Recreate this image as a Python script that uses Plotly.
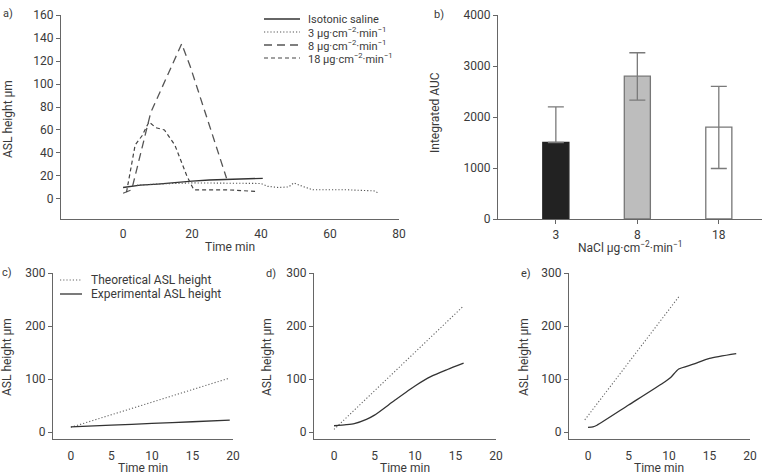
import plotly.graph_objects as go

W, H = 763, 474
FONT = "Roboto"
TXT = "#3a3a3a"
AX = "#666666"

# ---------------- data ----------------
# panel a
iso_x = [0, 5, 10, 15, 20, 25, 30, 35, 40.5]
iso_y = [10, 12, 13, 14.5, 15.5, 16.5, 17, 17.5, 18]
n3_x = [4, 10, 20, 30, 40, 42, 45, 48, 49.5, 52, 55, 65, 73, 74]
n3_y = [12, 13, 14, 14, 13.5, 11, 10, 10.5, 14, 11, 8, 8, 7, 5]
n8_x = [0, 2.5, 8, 17, 19.5, 30]
n8_y = [5, 8, 75, 135, 115, 18]
n18_x = [1, 3.5, 5.5, 7.5, 9.5, 12, 15, 18.5, 20.5, 30, 39]
n18_y = [6, 47, 55, 67, 62, 60, 47, 20, 8, 8, 6.5]
a_names = ["Isotonic saline",
           "3 µg·cm<sup>−2</sup>·min<sup>−1</sup>",
           "8 µg·cm<sup>−2</sup>·min<sup>−1</sup>",
           "18 µg·cm<sup>−2</sup>·min<sup>−1</sup>"]

# panel b
b_cats = ["3", "8", "18"]
b_vals = [1500, 2800, 1800]
b_err_plus = [700, 460, 800]
b_err_minus = [0, 470, 810]

# panels c-e
c_theo_x = [0, 19.6]
c_theo_y = [9, 102]
c_exp_x = [0, 5, 10, 15, 19.6]
c_exp_y = [10, 13, 16.5, 19.5, 22.5]
d_theo_x = [0, 16]
d_theo_y = [5, 238]
d_exp_x = [0, 1.5, 2.5, 4, 5, 7.5, 10, 12, 14, 16]
d_exp_y = [12, 14, 16, 24, 32, 60, 87, 105, 118, 130]
e_theo_x = [-0.4, 11.2]
e_theo_y = [23, 255]
e_exp_x = [0, 0.6, 1.1, 5, 9.5, 10.2, 11.2, 13, 15, 18.3]
e_exp_y = [9, 10, 13, 51, 95, 103, 119, 128, 139, 148]
c_names = ["Theoretical ASL height", "Experimental ASL height"]

# ---------------- helpers ----------------
def fx(px):
    return px / W

def fy(py):
    return 1 - py / H

fig = go.Figure()

FINEDOT = "1.2px,2px"

# panel a traces
a_series = [(iso_x, iso_y, "solid", 1.3, "#333333"),
            (n3_x, n3_y, FINEDOT, 1.1, "#555555"),
            (n8_x, n8_y, "8px,5px", 1.3, "#555555"),
            (n18_x, n18_y, "4px,3px", 1.2, "#444444")]
for (xs, ys, dash, wd, col), nm in zip(a_series, a_names):
    fig.add_trace(go.Scatter(x=xs, y=ys, mode="lines", name=nm, showlegend=False,
                             line=dict(color=col, width=wd, dash=dash),
                             xaxis="x", yaxis="y"))

# panel b
fig.add_trace(go.Bar(x=b_cats, y=b_vals, width=0.32, showlegend=False,
                     marker=dict(color=["#222222", "#bdbdbd", "#ffffff"],
                                 line=dict(color=["#222222", "#777777", "#777777"], width=1.3)),
                     error_y=dict(type="data", array=b_err_plus, arrayminus=b_err_minus,
                                  color="#7a7a7a", thickness=1.3, width=8),
                     xaxis="x2", yaxis="y2"))

# panels c-e
for i, (tx, ty, ex, ey) in enumerate([(c_theo_x, c_theo_y, c_exp_x, c_exp_y),
                                      (d_theo_x, d_theo_y, d_exp_x, d_exp_y),
                                      (e_theo_x, e_theo_y, e_exp_x, e_exp_y)]):
    xa, ya = "x%d" % (i + 3), "y%d" % (i + 3)
    fig.add_trace(go.Scatter(x=tx, y=ty, mode="lines", name=c_names[0], showlegend=False,
                             line=dict(color="#666666", width=1.1, dash=FINEDOT),
                             xaxis=xa, yaxis=ya))
    fig.add_trace(go.Scatter(x=ex, y=ey, mode="lines", name=c_names[1], showlegend=False,
                             line=dict(color="#333333", width=1.3, shape="spline", smoothing=0.6),
                             xaxis=xa, yaxis=ya))

tickfont = dict(family=FONT, size=12, color=TXT)
common = dict(showgrid=False, zeroline=False, showline=True, linecolor=AX, linewidth=1.2,
              ticks="outside", ticklen=4, tickcolor=AX, tickwidth=1.2, tickfont=tickfont)
hidden_a = dict(ticks="outside", ticklen=3, tickcolor="rgba(0,0,0,0)")
hidden_c = dict(ticks="outside", ticklen=5, tickcolor="rgba(0,0,0,0)")

lay = dict(
    width=W, height=H, margin=dict(l=0, r=0, t=0, b=0, autoexpand=False),
    paper_bgcolor="white", plot_bgcolor="white",
    font=dict(family=FONT, size=12, color=TXT),
    showlegend=False,
)
# panel a axes
lay["xaxis"] = dict(common, domain=[fx(61), fx(399)], range=[-18, 80], tickvals=[0, 20, 40, 60, 80],
                    anchor="y", **hidden_a)
lay["yaxis"] = dict(common, domain=[fy(219), fy(15)], range=[-17.4, 160],
                    tickvals=list(range(0, 161, 20)), anchor="x")
# panel b axes
lay["xaxis2"] = dict(common, domain=[fx(498), fx(762)], type="category", range=[-0.71, 2.53],
                     anchor="y2")
lay["yaxis2"] = dict(common, domain=[fy(219), fy(15)], range=[0, 4000],
                     tickvals=[0, 1000, 2000, 3000, 4000], anchor="x2")
# panels c-e axes
for i, (x0, x1, lo) in enumerate([(53, 233, -2.2), (314, 496, -2.47), (569, 750, -2.35)]):
    n = i + 3
    lay["xaxis%d" % n] = dict(common, domain=[fx(x0), fx(x1)], range=[lo, 20],
                              tickvals=[0, 5, 10, 15, 20], anchor="y%d" % n, **hidden_c)
    lay["yaxis%d" % n] = dict(common, domain=[fy(439), fy(273)], range=[-13, 300],
                              tickvals=[0, 100, 200, 300], anchor="x%d" % n)
fig.update_layout(**lay)

ann = []
def text(x, y, s, angle=0, size=12, xanchor="center"):
    ann.append(dict(x=fx(x), y=fy(y), xref="paper", yref="paper", text=s, showarrow=False,
                    textangle=angle, xanchor=xanchor, yanchor="middle",
                    font=dict(family=FONT, size=size, color=TXT)))

# panel labels
text(1, 13, "a)", xanchor="left", size=11)
text(432, 15, "b)", xanchor="left", size=11)
text(0, 272, "c)", xanchor="left", size=11)
text(264, 273, "d)", xanchor="left", size=11)
text(519, 273, "e)", xanchor="left", size=11)
# axis titles
text(230, 247, "Time min")
text(630, 247, "NaCl µg·cm<sup>−2</sup>·min<sup>−1</sup>")
text(143, 468, "Time min")
text(405, 468, "Time min")
text(659, 468, "Time min")
text(8, 119, "ASL height µm", angle=-90)
text(435, 113, "Integrated AUC", angle=-90)
text(7, 357, "ASL height µm", angle=-90)
text(267, 357, "ASL height µm", angle=-90)
text(524, 357, "ASL height µm", angle=-90)

# legends (manual, compact)
shapes = []
a_rows = [19, 32, 45, 58]
for (xs, ys, dash, wd, col), nm, ry in zip(a_series, a_names, a_rows):
    shapes.append(dict(type="line", xref="paper", yref="paper", x0=fx(264), x1=fx(300),
                       y0=fy(ry), y1=fy(ry), line=dict(color=col, width=wd, dash=dash)))
    text(306, ry + 0.5, nm, xanchor="left", size=11)
c_styles = [(FINEDOT, 1.1, "#666666"), ("solid", 1.3, "#333333")]
for (dash, wd, col), nm, ry in zip(c_styles, c_names, [280, 294]):
    shapes.append(dict(type="line", xref="paper", yref="paper", x0=fx(60), x1=fx(82),
                       y0=fy(ry), y1=fy(ry), line=dict(color=col, width=wd, dash=dash)))
    text(89, ry, nm, xanchor="left")

fig.update_layout(annotations=ann, shapes=shapes)
fig.write_html("out.html")
